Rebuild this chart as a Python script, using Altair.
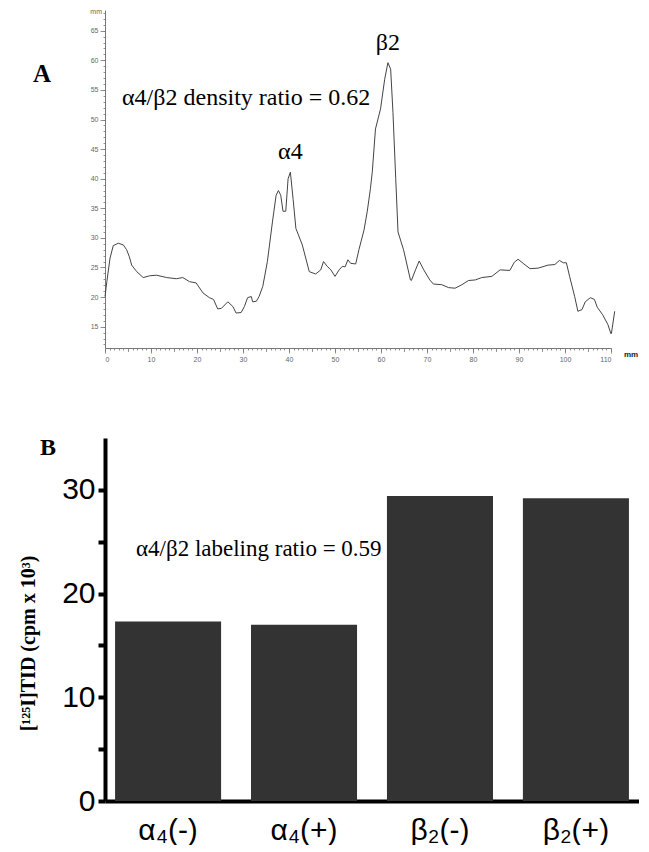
import altair as alt
import pandas as pd

# ---------------- Panel A: densitometry trace ----------------
trace_x = [0.0, 0.4, 1.1, 1.8, 2.9, 4.0, 4.7, 5.3, 5.8, 6.9, 8.3, 9.7, 11.2, 13.4, 15.5,
           16.9, 18.4, 19.8, 21.3, 22.7, 23.6, 24.5, 25.3, 26.7, 27.8, 28.5, 29.6, 30.3,
           31.0, 31.8, 32.1, 32.9, 33.5, 34.3, 35.3, 36.4, 37.2, 37.7, 38.2, 38.7, 39.3,
           39.8, 40.3, 40.9, 41.5, 42.9, 44.4, 45.8, 46.9, 47.5, 48.3, 49.1, 50.0, 50.9,
           51.6, 52.2, 52.8, 53.4, 54.5, 55.2, 56.3, 57.0, 57.7, 58.1, 58.8, 59.9, 60.8,
           61.5, 62.1, 62.6, 63.2, 63.7, 64.9, 66.4, 66.6, 67.5, 68.3, 69.3, 70.6, 71.4,
           73.2, 74.7, 76.1, 77.6, 79.0, 80.5, 81.9, 84.1, 85.9, 88.0, 89.0, 89.8, 90.9,
           92.4, 94.2, 96.3, 97.8, 98.8, 99.6, 100.3, 101.0, 102.1, 102.8, 103.7, 104.4,
           105.5, 106.4, 107.0, 108.2, 109.3, 110.0, 110.1, 110.8]
trace_y = [20.1, 22.6, 26.6, 28.7, 29.1, 28.8, 28.0, 26.8, 25.4, 24.3, 23.3, 23.6, 23.7, 23.3, 23.1,
           23.3, 22.6, 22.4, 20.7, 19.9, 19.6, 18.0, 18.1, 19.2, 18.4, 17.3, 17.4, 18.4,
           19.9, 20.1, 19.2, 19.3, 20.1, 21.8, 26.0, 32.7, 37.2, 38.0, 37.2, 34.5, 34.5,
           40.0, 41.1, 36.5, 31.6, 28.8, 24.3, 23.9, 24.6, 26.0, 25.2, 24.6, 23.5, 24.6,
           25.2, 25.1, 26.3, 25.7, 25.6, 28.0, 31.3, 34.4, 38.3, 41.1, 48.4, 51.8, 56.8,
           59.6, 58.5, 51.2, 40.0, 31.0, 28.0, 22.9, 22.8, 24.6, 26.1, 24.6, 22.9, 22.2,
           22.1, 21.6, 21.5, 22.1, 22.8, 22.9, 23.3, 23.5, 24.6, 24.5, 25.9, 26.4, 25.7,
           24.8, 24.9, 25.4, 25.5, 26.2, 25.8, 25.8, 23.5, 20.1, 17.6, 17.9, 19.2,
           19.9, 19.6, 18.3, 17.0, 15.4, 13.8, 13.9, 17.6]

A_x_major = list(range(0, 111, 10))
A_x_minor = list(range(0, 111))
A_y_major = list(range(15, 66, 5))
A_y_minor = list(range(12, 69))

A_ann_text = ["α4/β2 density ratio = 0.62", "α4", "β2"]
A_ann_x = [3.7, 40.3, 61.5]
A_ann_y = [53.7, 44.5, 63.0]

# ---------------- Panel B: bar chart ----------------
bar_labels = ["α₄(-)", "α₄(+)", "β₂(-)", "β₂(+)"]
bar_values = [17.3, 17.0, 29.4, 29.2]
B_y_ticks = [0, 5, 10, 15, 20, 25, 30]
B_title = "[¹²⁵I]TID (cpm x 10³)"
B_note = "α4/β2 labeling ratio = 0.59"

SERIF = "Liberation Serif"
SANS = "Liberation Sans"
AX_GRAY = "#777"

dfA = pd.DataFrame({"x": trace_x, "y": trace_y})
dfAnn = pd.DataFrame({"t": A_ann_text, "x": A_ann_x, "y": A_ann_y})

xscaleA = alt.Scale(domain=[0, 110], nice=False, zero=False)
yscaleA = alt.Scale(domain=[11.4, 68.5], nice=False, zero=False)

xA_major = alt.X("x:Q", scale=xscaleA,
                 axis=alt.Axis(values=A_x_major, orient="bottom", title=None, grid=False,
                               labelFontSize=7, labelColor="#666", labelFont=SANS,
                               labelPadding=2, labelOverlap=False,
                               domainColor=AX_GRAY, tickColor=AX_GRAY, tickWidth=0.8, tickSize=5))
yA_major = alt.Y("y:Q", scale=yscaleA,
                 axis=alt.Axis(values=A_y_major, orient="left", title=None, grid=False,
                               labelFontSize=7, labelColor="#666", labelFont=SANS,
                               labelPadding=2, labelOverlap=False,
                               domainColor=AX_GRAY, tickColor=AX_GRAY, tickWidth=0.8, tickSize=5))
xA_minor = alt.X("x:Q", scale=xscaleA,
                 axis=alt.Axis(values=A_x_minor, orient="bottom", title=None, grid=False,
                               labels=False, domain=False, tickColor=AX_GRAY, tickWidth=0.8,
                               tickSize={"condition": {"test": "datum.value % 5 === 0", "value": 3.5},
                                         "value": 2}))
yA_minor = alt.Y("y:Q", scale=yscaleA,
                 axis=alt.Axis(values=A_y_minor, orient="left", title=None, grid=False,
                               labels=False, domain=False, tickColor=AX_GRAY, tickWidth=0.8,
                               tickSize=2))

lineA = alt.Chart(dfA).mark_line(color="#444", strokeWidth=1).encode(x=xA_major, y=yA_major)
lineA_minor = alt.Chart(dfA).mark_line(strokeOpacity=0).encode(x=xA_minor, y=yA_minor)

xAnn = alt.X("x:Q", scale=xscaleA, axis=None)
yAnn = alt.Y("y:Q", scale=yscaleA, axis=None)
annA1 = alt.Chart(dfAnn).transform_filter("datum.x < 10").mark_text(
    font=SERIF, fontSize=24, align="left", baseline="middle", color="black"
).encode(x=xAnn, y=yAnn, text="t:N")
annA2 = alt.Chart(dfAnn).transform_filter("datum.x >= 10").mark_text(
    font=SERIF, fontSize=24, align="center", baseline="middle", color="black"
).encode(x=xAnn, y=yAnn, text="t:N")

labA = alt.Chart(pd.DataFrame({"t": ["A"]})).mark_text(
    font=SERIF, fontSize=25, fontWeight="bold", align="center", baseline="middle", color="black"
).encode(x=alt.value(-63), y=alt.value(64), text="t:N")
mmTop = alt.Chart(pd.DataFrame({"t": ["mm"]})).mark_text(
    font=SANS, fontSize=7, align="right", baseline="middle", color="#666"
).encode(x=alt.value(-3), y=alt.value(2), text="t:N")
mmRight = alt.Chart(pd.DataFrame({"t": ["mm"]})).mark_text(
    font=SANS, fontSize=8, fontWeight="bold", align="center", baseline="middle", color="#222"
).encode(x=alt.value(526), y=alt.value(345), text="t:N")

panelA = alt.layer(lineA, lineA_minor, annA1, annA2, labA, mmTop, mmRight).resolve_axis(
    x="independent", y="independent").properties(width=506, height=338)

# ---------------- Panel B ----------------
dfB = pd.DataFrame({"label": bar_labels, "value": bar_values})

xB = alt.X("label:N", sort=bar_labels,
           scale=alt.Scale(paddingInner=0.22, paddingOuter=0.074),
           axis=alt.Axis(title=None, labelAngle=0, labelFont=SANS, labelFontSize=30,
                         labelColor="black", labelPadding=14, ticks=False,
                         domainColor="black", domainWidth=4))
yB = alt.Y("value:Q", scale=alt.Scale(domain=[0, 35], nice=False),
           axis=alt.Axis(values=B_y_ticks, grid=False,
                         labelExpr="datum.value % 10 === 0 ? datum.label : ''",
                         labelOverlap=False, labelFont=SANS, labelFontSize=30,
                         labelColor="black", labelPadding=3,
                         domainColor="black", domainWidth=4,
                         tickColor="black", tickWidth=4, tickSize=7,
                         title=B_title, titleFont=SERIF, titleFontSize=20,
                         titleFontWeight="bold", titleColor="black",
                         titleAngle=-90, titleX=-77, titleY=205,
                         titleAlign="center", titleBaseline="middle"))

bars = alt.Chart(dfB).mark_bar(color="#333333").encode(x=xB, y=yB)
noteB = alt.Chart(pd.DataFrame({"t": [B_note]})).mark_text(
    font=SERIF, fontSize=23, align="left", baseline="middle", color="black"
).encode(x=alt.value(31), y=alt.value(111), text="t:N")
labB = alt.Chart(pd.DataFrame({"t": ["B"]})).mark_text(
    font=SERIF, fontSize=24, fontWeight="bold", align="center", baseline="middle", color="black"
).encode(x=alt.value(-57), y=alt.value(10), text="t:N")

panelB = alt.layer(bars, noteB, labB).properties(width=534, height=363)

chart = alt.vconcat(panelA, panelB, spacing=74).properties(
    padding={"left": 10, "top": 0, "right": 0, "bottom": 0}
).configure_view(stroke=None)

chart.save("out.html", embed_options={"renderer": "svg", "actions": False})
